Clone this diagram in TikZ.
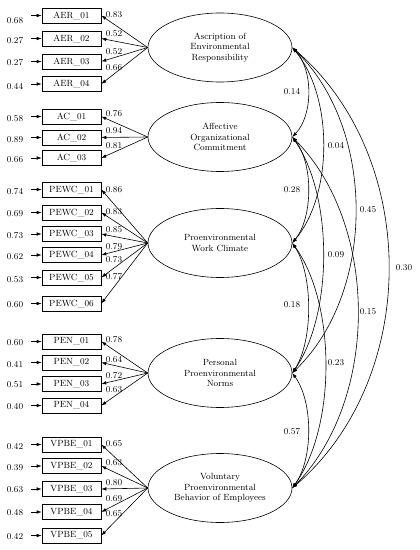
\documentclass[tikz,border=0pt]{standalone}
\usetikzlibrary{shapes.geometric,arrows.meta}
\newcommand{\fsz}{\fontsize{9}{10.8}\selectfont}
\begin{document}
\begin{tikzpicture}[x=1bp,y=-1bp,
 ind/.style={draw, line width=0.6bp, minimum width=59bp, minimum height=15bp, inner sep=0pt, font=\fsz},
 lat/.style={draw, line width=0.6bp, ellipse, minimum width=144bp, minimum height=69bp, inner sep=0pt, align=center, font=\fsz},
 num/.style={font=\fsz, inner sep=0pt},
 arr/.style={-{Latex[length=5bp,width=3.5bp]}, line width=0.6bp},
 cov/.style={{Latex[length=5bp,width=3.5bp]}-{Latex[length=5bp,width=3.5bp]}, line width=0.6bp}]
\useasboundingbox (0,0) rectangle (419,550);

% latent variables
\node[lat] (AER) at (220,47.5) {Ascription of\\Environmental\\Responsibility};
\node[lat] (AC) at (220,137) {Affective\\Organizational\\Commitment};
\node[lat] (PEWC) at (220,243) {Proenvironmental\\Work Climate};
\node[lat] (PEN) at (220,373) {Personal\\Proenvironmental\\Norms};
\node[lat] (VPBE) at (220,488) {Voluntary\\Proenvironmental\\Behavior of Employees};

% indicators: name / label / y / loading / loading y / residual / residual y
\foreach \n/\t/\y/\l/\ly/\r/\ry/\lv in {
  a1/AER\_01/15.5/0.83/15/0.68/21/AER,
  a2/AER\_02/38.5/0.52/34/0.27/40.5/AER,
  a3/AER\_03/61.5/0.52/52/0.27/63/AER,
  a4/AER\_04/84/0.66/68/0.44/86.5/AER,
  c1/AC\_01/116.5/0.76/114/0.58/119/AC,
  c2/AC\_02/137.5/0.94/131/0.89/139.5/AC,
  c3/AC\_03/158/0.81/146/0.66/159.5/AC,
  w1/PEWC\_01/189.5/0.86/190/0.74/191.5/PEWC,
  w2/PEWC\_02/212.5/0.83/212/0.69/214/PEWC,
  w3/PEWC\_03/234/0.85/230/0.73/235.5/PEWC,
  w4/PEWC\_04/255/0.79/247/0.62/257/PEWC,
  w5/PEWC\_05/277.5/0.73/260/0.53/280/PEWC,
  w6/PEWC\_06/303.5/0.77/277/0.60/305/PEWC,
  p1/PEN\_01/341.5/0.78/340/0.60/343/PEN,
  p2/PEN\_02/362.5/0.64/360/0.41/365/PEN,
  p3/PEN\_03/384/0.72/376/0.51/385/PEN,
  p4/PEN\_04/405.5/0.63/390/0.40/407/PEN,
  v1/VPBE\_01/444.5/0.65/444/0.42/446.5/VPBE,
  v2/VPBE\_02/466/0.63/463/0.39/467.5/VPBE,
  v3/VPBE\_03/489/0.80/483/0.63/490/VPBE,
  v4/VPBE\_04/512/0.69/499/0.48/513/VPBE,
  v5/VPBE\_05/535.5/0.65/514/0.42/536.5/VPBE}{
  \node[ind] (\n) at (71.5,\y) {\t};
  \coordinate (e\n) at (31,\y);
  \node[num] (r\n) at (15,\ry) {\r};
  \node[num] (l\n) at (114,\ly) {\l};
  \draw[arr] (e\n) -- (\n.west);
  \draw[arr] (\lv.west) -- (\n.east);
}

% covariances
\draw[cov] (AER.east) .. controls +(21,22) and +(21,-22) .. (AC.east);
\draw[cov] (AC.east) .. controls +(21,26) and +(21,-26) .. (PEWC.east);
\draw[cov] (PEWC.east) .. controls +(21,32) and +(21,-32) .. (PEN.east);
\draw[cov] (PEN.east) .. controls +(21,29) and +(21,-29) .. (VPBE.east);
\draw[cov] (AER.east) .. controls +(41,49) and +(41,-49) .. (PEWC.east);
\draw[cov] (AC.east) .. controls +(41,59) and +(41,-59) .. (PEN.east);
\draw[cov] (PEWC.east) .. controls +(44,61) and +(44,-61) .. (VPBE.east);
\draw[cov] (AER.east) .. controls +(84,81) and +(84,-81) .. (PEN.east);
\draw[cov] (AC.east) .. controls +(87,88) and +(87,-88) .. (VPBE.east);
\draw[cov] (AER.east) .. controls +(128,110) and +(128,-110) .. (VPBE.east);

\node[num] (k1) at (292,92) {0.14};
\node[num] (k2) at (292,190) {0.28};
\node[num] (k3) at (292,305) {0.18};
\node[num] (k4) at (292,432) {0.57};
\node[num] (k5) at (336,146) {0.04};
\node[num] (k6) at (336,255) {0.09};
\node[num] (k7) at (336,363) {0.23};
\node[num] (k8) at (368,210) {0.45};
\node[num] (k9) at (368,312) {0.15};
\node[num] (k10) at (404,268) {0.30};
\end{tikzpicture}
\end{document}
